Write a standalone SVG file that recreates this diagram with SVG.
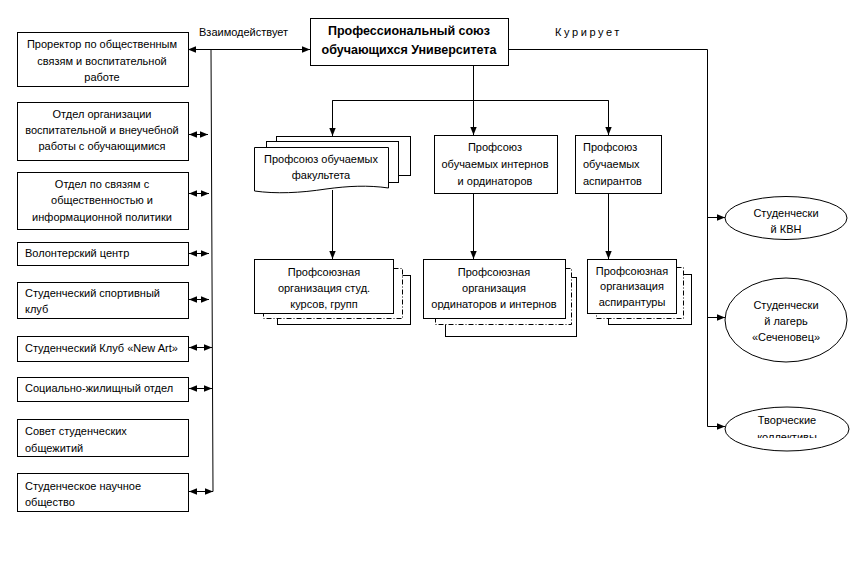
<svg xmlns="http://www.w3.org/2000/svg" width="855" height="577" viewBox="0 0 855 577">
<defs>
<marker id="ah" markerUnits="userSpaceOnUse" markerWidth="8" markerHeight="8" viewBox="0 0 8 8" refX="8" refY="4" orient="auto-start-reverse">
<path d="M0,0.8 L8,4 L0,7.2 Z" fill="#000"/>
</marker>
<clipPath id="clipTv"><rect x="700" y="400" width="155" height="38"/></clipPath>
</defs>
<style>
.b{fill:#fff;stroke:#000;stroke-width:1}
.c{fill:none;stroke:#000;stroke-width:1}
.dd{fill:none;stroke:#000;stroke-width:1;stroke-dasharray:5,2,1,2}
.t{font-family:"Liberation Sans",Arial,sans-serif;font-size:11px;fill:#000}
.m{text-anchor:middle}
.bold{font-weight:bold;font-size:12.5px}
.a{marker-end:url(#ah)}
.aa{marker-start:url(#ah);marker-end:url(#ah)}
</style>
<rect width="855" height="577" fill="#fff"/>

<g id="connectors">
<line class="c aa" x1="188" y1="49.5" x2="310" y2="49.5"/>
<line class="c" x1="211" y1="49.5" x2="213" y2="491.5"/>
<line class="c aa" x1="189" y1="134.5" x2="208" y2="134.5"/>
<line class="c aa" x1="189" y1="193.5" x2="209" y2="193.5"/>
<line class="c aa" x1="189" y1="253.5" x2="209" y2="253.5"/>
<line class="c aa" x1="189" y1="299.5" x2="209" y2="299.5"/>
<line class="c aa" x1="189" y1="347.5" x2="212" y2="347.5"/>
<line class="c aa" x1="189" y1="388.5" x2="212" y2="388.5"/>
<line class="c aa" x1="189" y1="491.5" x2="213" y2="491.5"/>
<polyline class="c" points="508,49.5 707.5,49.5 707.5,426.5"/>
<line class="c a" x1="707.5" y1="217.5" x2="725" y2="217.5"/>
<line class="c a" x1="707.5" y1="317.5" x2="725" y2="317.5"/>
<line class="c a" x1="707.5" y1="426.5" x2="725" y2="426.5"/>
<line class="c" x1="473.5" y1="65" x2="473.5" y2="100.5"/>
<polyline class="c" points="332.5,136 332.5,100.5 608.5,100.5 608.5,135"/>
<line class="c a" x1="332.5" y1="100.5" x2="332.5" y2="136"/>
<line class="c a" x1="608.5" y1="100.5" x2="608.5" y2="135"/>
<line class="c a" x1="473.5" y1="100.5" x2="473.5" y2="135"/>
<line class="c a" x1="332.5" y1="190" x2="332.5" y2="259"/>
<line class="c a" x1="473.5" y1="193" x2="473.5" y2="259"/>
<line class="c a" x1="608.5" y1="193" x2="608.5" y2="259"/>
</g>

<text class="t" x="199" y="36">Взаимодействует</text>
<text class="t" x="555" y="36" letter-spacing="2.6">Курирует</text>

<g id="n-prorector">
<rect class="b" x="17.5" y="32.5" width="171" height="54"/>
<text class="t m" x="102" y="48">Проректор по общественным</text>
<text class="t m" x="102" y="65">связям и воспитательной</text>
<text class="t m" x="102" y="81">работе</text>
</g>
<g id="n-otdel-vosp">
<rect class="b" x="17.5" y="102.5" width="171" height="58"/>
<text class="t m" x="102" y="118">Отдел организации</text>
<text class="t m" x="102" y="134">воспитательной и внеучебной</text>
<text class="t m" x="102" y="150">работы с обучающимися</text>
</g>
<g id="n-otdel-svyaz">
<rect class="b" x="17.5" y="172.5" width="171" height="57"/>
<text class="t m" x="102" y="188">Отдел по связям с</text>
<text class="t m" x="102" y="204">общественностью и</text>
<text class="t m" x="102" y="221">информационной политики</text>
</g>
<g id="n-volonter">
<rect class="b" x="17.5" y="242.5" width="171" height="23"/>
<text class="t" x="25" y="257">Волонтерский центр</text>
</g>
<g id="n-sport">
<rect class="b" x="17.5" y="282.5" width="171" height="36"/>
<text class="t" x="25" y="297">Студенческий спортивный</text>
<text class="t" x="25" y="313">клуб</text>
</g>
<g id="n-newart">
<rect class="b" x="17.5" y="336.5" width="171" height="25"/>
<text class="t" x="25" y="352">Студенческий Клуб «New Art»</text>
</g>
<g id="n-social">
<rect class="b" x="17.5" y="377.5" width="171" height="24"/>
<text class="t" x="25" y="392">Социально-жилищный отдел</text>
</g>
<g id="n-sovet">
<rect class="b" x="17.5" y="419.5" width="171" height="37"/>
<text class="t" x="25" y="435">Совет студенческих</text>
<text class="t" x="25" y="452">общежитий</text>
</g>
<g id="n-nauch">
<rect class="b" x="17.5" y="473.5" width="171" height="38"/>
<text class="t" x="25" y="490">Студенческое научное</text>
<text class="t" x="25" y="506">общество</text>
</g>

<g id="n-main">
<rect class="b" x="310.5" y="18.5" width="198" height="47"/>
<text class="t m bold" x="409" y="35">Профессиональный союз</text>
<text class="t m bold" x="409" y="54">обучающихся Университета</text>
</g>

<g id="n-fak">
<rect class="b" x="276.5" y="136.5" width="134" height="39"/>
<rect class="b" x="266.5" y="141.5" width="132" height="41"/>
<path class="b" d="M254.5,147.5 H388.5 V188 C368,185 348,186 326,189 C300,193 276,194 254.5,191 Z"/>
<text class="t m" x="321" y="163">Профсоюз обучаемых</text>
<text class="t m" x="321" y="179">факультета</text>
</g>
<g id="n-intern">
<rect class="b" x="434.5" y="135.5" width="123" height="58"/>
<text class="t m" x="495" y="151">Профсоюз</text>
<text class="t m" x="495" y="168">обучаемых интернов</text>
<text class="t m" x="495" y="185">и ординаторов</text>
</g>
<g id="n-asp">
<rect class="b" x="575.5" y="135.5" width="86" height="58"/>
<text class="t" x="583" y="151">Профсоюз</text>
<text class="t" x="583" y="168">обучаемых</text>
<text class="t" x="583" y="185">аспирантов</text>
</g>

<g id="n-org-stud">
<rect class="c" x="277.5" y="275.5" width="133" height="49"/>
<rect class="b" x="263.5" y="268.5" width="139" height="50" style="stroke-dasharray:5,2,1,2"/>
<rect class="b" x="254.5" y="259.5" width="139" height="54"/>
<text class="t m" x="324" y="276">Профсоюзная</text>
<text class="t m" x="324" y="292">организация студ.</text>
<text class="t m" x="324" y="308">курсов, групп</text>
</g>
<g id="n-org-ord">
<rect class="c" x="445.5" y="277.5" width="131" height="59"/>
<rect class="b" x="435.5" y="268.5" width="136" height="56" style="stroke-dasharray:5,2,1,2"/>
<rect class="b" x="423.5" y="259.5" width="142" height="59"/>
<text class="t m" x="494" y="276">Профсоюзная</text>
<text class="t m" x="494" y="292">организация</text>
<text class="t m" x="494" y="308">ординаторов и интернов</text>
</g>
<g id="n-org-asp">
<rect class="c" x="608.5" y="274.5" width="83" height="50"/>
<rect class="b" x="596.5" y="267.5" width="87" height="51" style="stroke-dasharray:5,2,1,2"/>
<rect class="b" x="587.5" y="259.5" width="89" height="54"/>
<text class="t m" x="632" y="275">Профсоюзная</text>
<text class="t m" x="632" y="290">организация</text>
<text class="t m" x="632" y="306">аспирантуры</text>
</g>

<g id="n-kvn">
<ellipse class="b" cx="786" cy="218" rx="61" ry="21.5"/>
<text class="t m" x="786" y="217">Студенчески</text>
<text class="t m" x="786" y="233">й КВН</text>
</g>
<g id="n-lager">
<ellipse class="b" cx="786" cy="320" rx="61" ry="42"/>
<text class="t m" x="786" y="309">Студенчески</text>
<text class="t m" x="786" y="325">й лагерь</text>
<text class="t m" x="786" y="341">«Сеченовец»</text>
</g>
<g id="n-tvor">
<ellipse class="b" cx="787" cy="429" rx="62" ry="22"/>
<text class="t m" x="787" y="424">Творческие</text>
<text class="t m" x="787" y="441" clip-path="url(#clipTv)">коллективы</text>
</g>
</svg>
